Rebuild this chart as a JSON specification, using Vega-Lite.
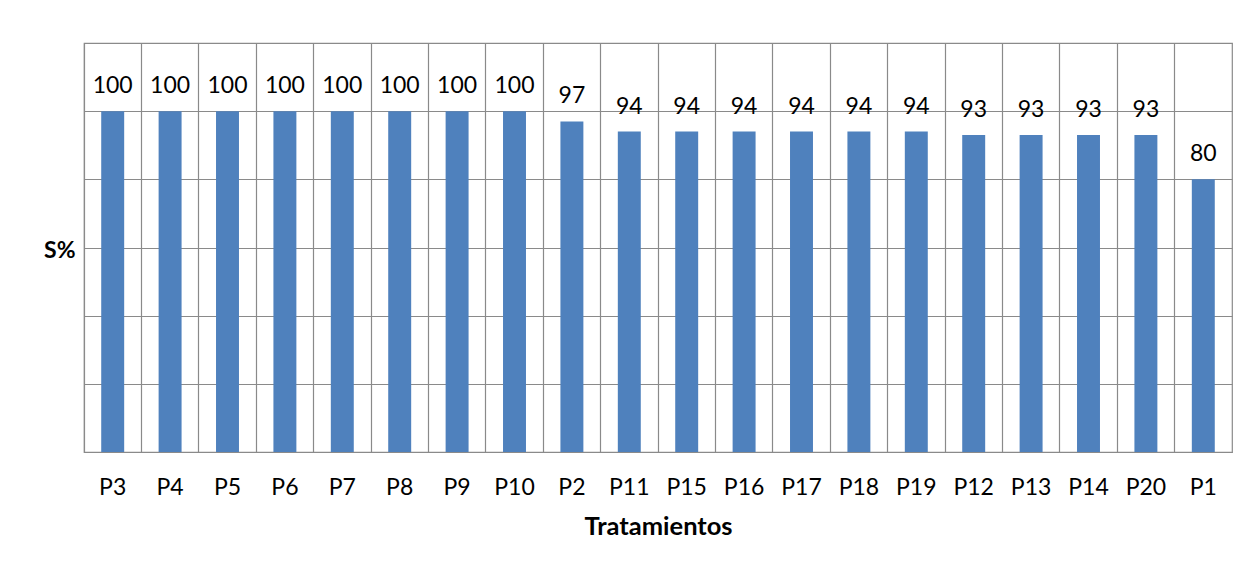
{
  "$schema": "https://vega.github.io/schema/vega-lite/v6.json",
  "autosize": "none",
  "width": 1148,
  "height": 409,
  "padding": {"left": 84, "top": 43, "right": 17, "bottom": 117},
  "background": "white",
  "config": {
    "font": "Lato",
    "view": {"stroke": "#8a8a8a", "strokeWidth": 1.2},
    "axis": {"gridColor": "#8a8a8a", "gridWidth": 1.2, "gridOpacity": 1}
  },
  "data": {
    "values": [
      {"trat": "P3", "s": 100},
      {"trat": "P4", "s": 100},
      {"trat": "P5", "s": 100},
      {"trat": "P6", "s": 100},
      {"trat": "P7", "s": 100},
      {"trat": "P8", "s": 100},
      {"trat": "P9", "s": 100},
      {"trat": "P10", "s": 100},
      {"trat": "P2", "s": 97},
      {"trat": "P11", "s": 94},
      {"trat": "P15", "s": 94},
      {"trat": "P16", "s": 94},
      {"trat": "P17", "s": 94},
      {"trat": "P18", "s": 94},
      {"trat": "P19", "s": 94},
      {"trat": "P12", "s": 93},
      {"trat": "P13", "s": 93},
      {"trat": "P14", "s": 93},
      {"trat": "P20", "s": 93},
      {"trat": "P1", "s": 80}
    ]
  },
  "encoding": {
    "x": {
      "field": "trat",
      "type": "nominal",
      "sort": null,
      "scale": {"paddingInner": 0, "paddingOuter": 0},
      "axis": {
        "title": "Tratamientos",
        "titleFont": "Lato",
        "titleFontSize": 25.5,
        "titleFontWeight": "bold",
        "titleColor": "#000000",
        "titlePadding": 15,
        "labelAngle": 0,
        "labelFont": "Lato",
        "labelFontSize": 23,
        "labelColor": "#000000",
        "labelPadding": 24,
        "ticks": false,
        "domain": false,
        "grid": true,
        "bandPosition": 0
      }
    },
    "y": {
      "field": "s",
      "type": "quantitative",
      "scale": {"domain": [0, 120], "nice": false},
      "axis": {
        "title": "S%",
        "titleAngle": 0,
        "titleFont": "Lato",
        "titleFontSize": 23,
        "titleFontWeight": "bold",
        "titleColor": "#000000",
        "titleAlign": "right",
        "titleBaseline": "middle",
        "titleX": -9,
        "titleY": 207,
        "values": [0, 20, 40, 60, 80, 100, 120],
        "labels": false,
        "ticks": false,
        "domain": false,
        "grid": true
      }
    }
  },
  "layer": [
    {
      "mark": {"type": "bar", "width": {"band": 0.4}, "color": "#4F81BD"}
    },
    {
      "mark": {
        "type": "text",
        "baseline": "alphabetic",
        "dy": -18,
        "font": "Lato",
        "fontSize": 23,
        "color": "#000000"
      },
      "encoding": {"text": {"field": "s", "type": "quantitative"}}
    }
  ]
}
